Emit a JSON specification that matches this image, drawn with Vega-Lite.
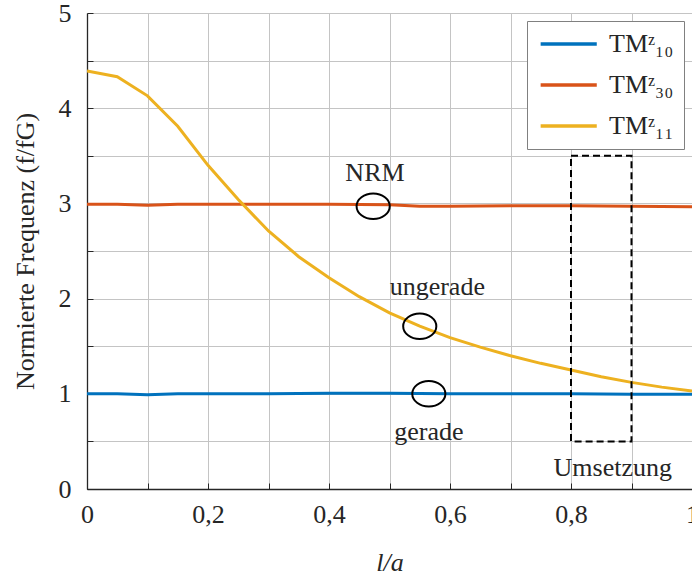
{
  "$schema": "https://vega.github.io/schema/vega-lite/v6.json",
  "autosize": "none",
  "width": 605,
  "height": 476,
  "padding": {"left": 87, "top": 13, "right": 0, "bottom": 89},
  "background": "white",
  "config": {
    "font": "Liberation Serif",
    "view": {"stroke": null},
    "axis": {
      "labelFont": "Liberation Serif",
      "titleFont": "Liberation Serif",
      "labelFontSize": 26,
      "titleFontSize": 26,
      "titleFontWeight": "normal",
      "labelColor": "#262626",
      "titleColor": "#262626",
      "domainColor": "#262626",
      "domainWidth": 1.3,
      "tickColor": "#262626",
      "tickWidth": 1,
      "gridColor": "#c4c4c4",
      "gridWidth": 1,
      "gridOpacity": 1
    }
  },
  "datasets": {
    "curves": [
      {"l": 0.0, "f": 1.0, "mode": "TMᶻ₁₀"},
      {"l": 0.05, "f": 1.0, "mode": "TMᶻ₁₀"},
      {"l": 0.1, "f": 0.99, "mode": "TMᶻ₁₀"},
      {"l": 0.15, "f": 1.0, "mode": "TMᶻ₁₀"},
      {"l": 0.2, "f": 1.0, "mode": "TMᶻ₁₀"},
      {"l": 0.3, "f": 1.0, "mode": "TMᶻ₁₀"},
      {"l": 0.4, "f": 1.005, "mode": "TMᶻ₁₀"},
      {"l": 0.5, "f": 1.005, "mode": "TMᶻ₁₀"},
      {"l": 0.6, "f": 1.0, "mode": "TMᶻ₁₀"},
      {"l": 0.7, "f": 1.0, "mode": "TMᶻ₁₀"},
      {"l": 0.8, "f": 1.0, "mode": "TMᶻ₁₀"},
      {"l": 0.9, "f": 0.995, "mode": "TMᶻ₁₀"},
      {"l": 1.0, "f": 0.995, "mode": "TMᶻ₁₀"},
      {"l": 0.0, "f": 2.99, "mode": "TMᶻ₃₀"},
      {"l": 0.05, "f": 2.99, "mode": "TMᶻ₃₀"},
      {"l": 0.1, "f": 2.98, "mode": "TMᶻ₃₀"},
      {"l": 0.15, "f": 2.99, "mode": "TMᶻ₃₀"},
      {"l": 0.2, "f": 2.99, "mode": "TMᶻ₃₀"},
      {"l": 0.3, "f": 2.99, "mode": "TMᶻ₃₀"},
      {"l": 0.4, "f": 2.99, "mode": "TMᶻ₃₀"},
      {"l": 0.5, "f": 2.985, "mode": "TMᶻ₃₀"},
      {"l": 0.55, "f": 2.97, "mode": "TMᶻ₃₀"},
      {"l": 0.6, "f": 2.97, "mode": "TMᶻ₃₀"},
      {"l": 0.7, "f": 2.975, "mode": "TMᶻ₃₀"},
      {"l": 0.8, "f": 2.975, "mode": "TMᶻ₃₀"},
      {"l": 0.9, "f": 2.97, "mode": "TMᶻ₃₀"},
      {"l": 1.0, "f": 2.965, "mode": "TMᶻ₃₀"},
      {"l": 0.0, "f": 4.39, "mode": "TMᶻ₁₁"},
      {"l": 0.05, "f": 4.33, "mode": "TMᶻ₁₁"},
      {"l": 0.1, "f": 4.13, "mode": "TMᶻ₁₁"},
      {"l": 0.15, "f": 3.81, "mode": "TMᶻ₁₁"},
      {"l": 0.2, "f": 3.4, "mode": "TMᶻ₁₁"},
      {"l": 0.25, "f": 3.04, "mode": "TMᶻ₁₁"},
      {"l": 0.3, "f": 2.71, "mode": "TMᶻ₁₁"},
      {"l": 0.35, "f": 2.44, "mode": "TMᶻ₁₁"},
      {"l": 0.4, "f": 2.22, "mode": "TMᶻ₁₁"},
      {"l": 0.45, "f": 2.02, "mode": "TMᶻ₁₁"},
      {"l": 0.5, "f": 1.85, "mode": "TMᶻ₁₁"},
      {"l": 0.55, "f": 1.71, "mode": "TMᶻ₁₁"},
      {"l": 0.6, "f": 1.59, "mode": "TMᶻ₁₁"},
      {"l": 0.65, "f": 1.49, "mode": "TMᶻ₁₁"},
      {"l": 0.7, "f": 1.40, "mode": "TMᶻ₁₁"},
      {"l": 0.75, "f": 1.32, "mode": "TMᶻ₁₁"},
      {"l": 0.8, "f": 1.25, "mode": "TMᶻ₁₁"},
      {"l": 0.85, "f": 1.18, "mode": "TMᶻ₁₁"},
      {"l": 0.9, "f": 1.12, "mode": "TMᶻ₁₁"},
      {"l": 0.95, "f": 1.07, "mode": "TMᶻ₁₁"},
      {"l": 1.0, "f": 1.03, "mode": "TMᶻ₁₁"}
    ],
    "box": [{"l1": 0.8, "l2": 0.9, "f1": 0.5, "f2": 3.5}],
    "circles": [
      {"l": 0.473, "f": 2.97},
      {"l": 0.55, "f": 1.71},
      {"l": 0.565, "f": 1.0}
    ],
    "labels": [
      {"l": 0.476, "f": 3.32, "text": "NRM"},
      {"l": 0.579, "f": 2.12, "text": "ungerade"},
      {"l": 0.565, "f": 0.6, "text": "gerade"},
      {"l": 0.869, "f": 0.22, "text": "Umsetzung"}
    ]
  },
  "layer": [
    {
      "data": {"name": "curves"},
      "mark": {"type": "line", "strokeWidth": 3, "clip": true},
      "encoding": {
        "x": {
          "field": "l", "type": "quantitative",
          "scale": {"domain": [0, 1], "nice": false},
          "axis": {
            "title": "l/a",
            "titleFontStyle": "italic",
            "values": [0, 0.1, 0.2, 0.3, 0.4, 0.5, 0.6, 0.7, 0.8, 0.9, 1],
            "labelExpr": "round(datum.value*10)%2==0 ? (datum.value==0 ? '0' : datum.value==1 ? '1' : replace(format(datum.value,'.1f'),'.',',')) : ''",
            "tickSize": -6,
            "labelPadding": 18,
            "titlePadding": 22,
            "labelFlush": false,
            "labelOverlap": false
          }
        },
        "y": {
          "field": "f", "type": "quantitative",
          "scale": {"domain": [0, 5], "nice": false},
          "axis": {
            "title": "Normierte Frequenz (f/fG)",
            "values": [0, 0.5, 1, 1.5, 2, 2.5, 3, 3.5, 4, 4.5, 5],
            "labelExpr": "datum.value%1==0 ? format(datum.value,'d') : ''",
            "tickSize": -6,
            "labelPadding": 22,
            "titlePadding": 20,
            "labelFlush": false,
            "labelOverlap": false
          }
        },
        "color": {
          "field": "mode", "type": "nominal",
          "scale": {"domain": ["TMᶻ₁₀", "TMᶻ₃₀", "TMᶻ₁₁"], "range": ["#0072BD", "#D95319", "#EDB120"]},
          "legend": {
            "title": null,
            "orient": "top-right",
            "offset": 8,
            "symbolType": "M -1 0 L 5 0",
            "symbolStrokeWidth": 3.5,
            "symbolSize": 350,
            "labelFontSize": 26,
            "labelFont": "Liberation Serif",
            "labelColor": "#262626",
            "rowPadding": 15,
            "padding": 10,
            "strokeColor": "#808080",
            "fillColor": "white",
            "labelOffset": 46
          }
        }
      }
    },
    {
      "data": {"name": "box"},
      "mark": {"type": "rect", "fill": null, "fillOpacity": 0, "stroke": "black", "strokeWidth": 2, "strokeDash": [7, 4]},
      "encoding": {
        "x": {"field": "l1", "type": "quantitative"},
        "x2": {"field": "l2"},
        "y": {"field": "f1", "type": "quantitative"},
        "y2": {"field": "f2"}
      }
    },
    {
      "data": {"name": "circles"},
      "mark": {"type": "point", "filled": false, "stroke": "black", "strokeWidth": 2, "opacity": 1, "size": 650, "shape": "M -1.3 0 A 1.3 1 0 1 0 1.3 0 A 1.3 1 0 1 0 -1.3 0 Z"},
      "encoding": {
        "x": {"field": "l", "type": "quantitative"},
        "y": {"field": "f", "type": "quantitative"}
      }
    },
    {
      "data": {"name": "labels"},
      "mark": {"type": "text", "font": "Liberation Serif", "fontSize": 26, "color": "#262626", "align": "center", "baseline": "middle"},
      "encoding": {
        "x": {"field": "l", "type": "quantitative"},
        "y": {"field": "f", "type": "quantitative"},
        "text": {"field": "text"}
      }
    }
  ]
}
